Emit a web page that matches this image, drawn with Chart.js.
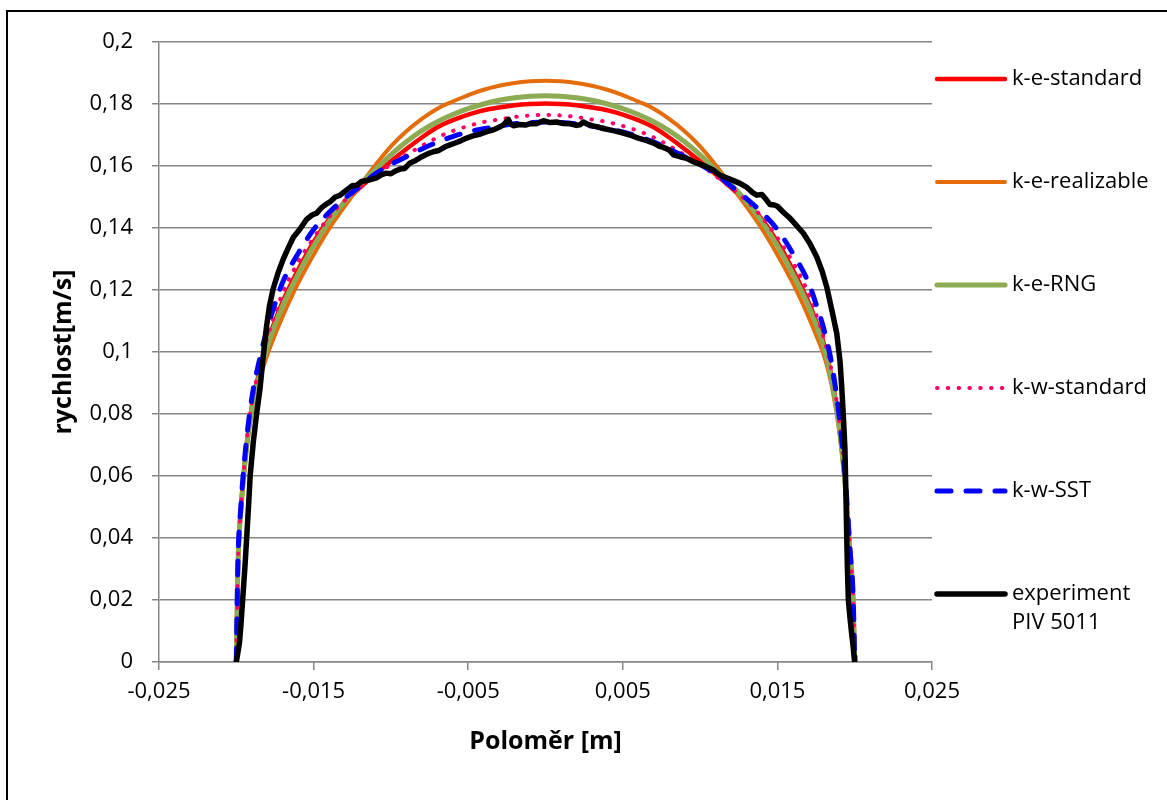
<!DOCTYPE html>
<html>
<head>
<meta charset="utf-8">
<title>Rychlostní profil</title>
<script src="https://cdn.jsdelivr.net/npm/chart.js@4.4.1/dist/chart.umd.min.js"></script>
<style>
  html, body { margin: 0; padding: 0; background: #ffffff; }
  #wrap { width: 1167px; height: 800px; position: relative; }
</style>
</head>
<body>
<div id="wrap"><canvas id="c" width="1167" height="800"></canvas></div>
<script>
// Radius grid shared by the CFD models [m]
const MODEL_X = [
  -0.02, -0.0199, -0.0197, -0.0194, -0.019, -0.0185, -0.018, -0.0175, -0.017, -0.016,
  -0.015, -0.014, -0.013, -0.012, -0.011, -0.010, -0.009, -0.008, -0.007, -0.006,
  -0.005, -0.004, -0.003, -0.002, -0.001, 0,
  0.001, 0.002, 0.003, 0.004, 0.005, 0.006, 0.007, 0.008, 0.009, 0.010,
  0.011, 0.012, 0.013, 0.014, 0.015, 0.016, 0.017, 0.0175, 0.018, 0.0185,
  0.019, 0.0194, 0.0197, 0.0199, 0.02
];

// Velocity [m/s] per turbulence model
const K_E_STANDARD = [
  0, 0.030, 0.0494, 0.0668, 0.0822, 0.0937, 0.1028, 0.1100, 0.1162, 0.1265,
  0.1355, 0.1428, 0.1482, 0.1530, 0.1573, 0.1615, 0.1655, 0.1692, 0.1725, 0.1748,
  0.1766, 0.1780, 0.1789, 0.1796, 0.1800, 0.1802,
  0.1800, 0.1796, 0.1789, 0.1780, 0.1766, 0.1748, 0.1725, 0.1692, 0.1655, 0.1615,
  0.1573, 0.1530, 0.1482, 0.1428, 0.1355, 0.1265, 0.1162, 0.1100, 0.1028, 0.0922,
  0.0764, 0.0567, 0.0352, 0.020, 0
];
const K_E_REALIZABLE = [
  0, 0.030, 0.0485, 0.0655, 0.0805, 0.0910, 0.0990, 0.1055, 0.1115, 0.1222,
  0.1314, 0.1397, 0.1469, 0.1537, 0.1603, 0.1663, 0.1712, 0.1752, 0.1785, 0.1808,
  0.1829, 0.1846, 0.1859, 0.1868, 0.1873, 0.1875,
  0.1873, 0.1868, 0.1859, 0.1846, 0.1829, 0.1808, 0.1785, 0.1752, 0.1712, 0.1663,
  0.1603, 0.1537, 0.1469, 0.1397, 0.1314, 0.1222, 0.1115, 0.1055, 0.0990, 0.0895,
  0.0745, 0.0555, 0.0345, 0.0195, 0
];
const K_E_RNG = [
  0, 0.030, 0.0490, 0.0663, 0.0815, 0.0925, 0.1015, 0.1088, 0.1150, 0.1252,
  0.1343, 0.1420, 0.1485, 0.1540, 0.1588, 0.1636, 0.1678, 0.1714, 0.1743, 0.1766,
  0.1785, 0.1800, 0.1812, 0.1820, 0.1825, 0.1827,
  0.1825, 0.1820, 0.1812, 0.1800, 0.1785, 0.1766, 0.1743, 0.1714, 0.1678, 0.1636,
  0.1588, 0.1540, 0.1485, 0.1420, 0.1343, 0.1252, 0.1150, 0.1088, 0.1015, 0.0912,
  0.0757, 0.0563, 0.0350, 0.020, 0
];
const K_W_STANDARD = [
  0, 0.031, 0.050, 0.0678, 0.0835, 0.0952, 0.1045, 0.1122, 0.1190, 0.1290,
  0.1368, 0.1435, 0.1488, 0.1530, 0.1568, 0.1605, 0.1636, 0.1665, 0.1692, 0.1713,
  0.1729, 0.1742, 0.1750, 0.1758, 0.1763, 0.1765,
  0.1763, 0.1758, 0.1750, 0.1742, 0.1729, 0.1713, 0.1692, 0.1665, 0.1636, 0.1605,
  0.1568, 0.1530, 0.1488, 0.1435, 0.1368, 0.1290, 0.1190, 0.1122, 0.1045, 0.0940,
  0.0777, 0.0576, 0.0358, 0.0205, 0
];
const K_W_SST = [
  0, 0.031, 0.0505, 0.0688, 0.0850, 0.0975, 0.1075, 0.1155, 0.1225, 0.1318,
  0.1395, 0.1450, 0.1495, 0.1535, 0.1575, 0.1605, 0.1630, 0.1655, 0.1677, 0.1695,
  0.1710, 0.1720, 0.1729, 0.1736, 0.1740, 0.1742,
  0.1740, 0.1736, 0.1729, 0.1720, 0.1710, 0.1695, 0.1677, 0.1655, 0.1630, 0.1605,
  0.1575, 0.1535, 0.1495, 0.1450, 0.1395, 0.1318, 0.1225, 0.1155, 0.1075, 0.0965,
  0.0792, 0.0586, 0.0362, 0.021, 0
];

// PIV measurement (PIV 5011)
const PIV_X = [
  -0.02000, -0.01990, -0.01980, -0.01970, -0.01959, -0.01945, -0.01933, -0.01920, -0.01910, -0.01890,
  -0.01868, -0.01847, -0.01825, -0.01805, -0.01785, -0.01761, -0.01730, -0.01696, -0.01660, -0.01631,
  -0.01590, -0.01545, -0.01510, -0.01480, -0.01450, -0.01415, -0.01394, -0.01360, -0.01330, -0.01308,
  -0.01286, -0.01250, -0.01220, -0.01190, -0.01157, -0.01120, -0.01092, -0.01060, -0.01030, -0.01000,
  -0.00970, -0.00941, -0.00910, -0.00876, -0.00840, -0.00800, -0.00760, -0.00726, -0.00690, -0.00650,
  -0.00618, -0.00580, -0.00545, -0.00510, -0.00470, -0.00420, -0.00380, -0.00340, -0.00300, -0.00273,
  -0.00250, -0.00240, -0.00225, -0.00208, -0.00170, -0.00130, -0.00100, -0.00060, -0.00014, 0.00030,
  0.00070, 0.00115, 0.00160, 0.00200, 0.00223, 0.00245, 0.00270, 0.00300, 0.00331, 0.00380,
  0.00439, 0.00490, 0.00547, 0.00600, 0.00655, 0.00700, 0.00740, 0.00762, 0.00800, 0.00827,
  0.00870, 0.00913, 0.00960, 0.00999, 0.01040, 0.01085, 0.01129, 0.01180, 0.01220, 0.01258,
  0.01300, 0.01340, 0.01366, 0.01400, 0.01430, 0.01452, 0.01480, 0.01500, 0.01540, 0.01581,
  0.01620, 0.01668, 0.01710, 0.01754, 0.01790, 0.01819, 0.01850, 0.01884, 0.01905, 0.01916,
  0.01928, 0.01937, 0.01943, 0.01948, 0.01953, 0.01959, 0.01970, 0.01980, 0.01990, 0.01996,
  0.02000
];
const PIV_V = [
  0.0000, 0.0030, 0.0060, 0.0120, 0.0200, 0.0300, 0.0400, 0.0510, 0.0603, 0.0710,
  0.0803, 0.0880, 0.0990, 0.1080, 0.1150, 0.1205, 0.1255, 0.1300, 0.1340, 0.1370,
  0.1395, 0.1428, 0.1442, 0.1448, 0.1465, 0.1478, 0.1484, 0.1500, 0.1505, 0.1514,
  0.1523, 0.1536, 0.1538, 0.1550, 0.1553, 0.1558, 0.1562, 0.1572, 0.1577, 0.1575,
  0.1584, 0.1590, 0.1592, 0.1610, 0.1618, 0.1630, 0.1640, 0.1646, 0.1650, 0.1662,
  0.1668, 0.1675, 0.1682, 0.1690, 0.1697, 0.1703, 0.1711, 0.1716, 0.1725, 0.1732,
  0.1745, 0.1750, 0.1735, 0.1730, 0.1734, 0.1732, 0.1737, 0.1736, 0.1746, 0.1740,
  0.1742, 0.1737, 0.1736, 0.1731, 0.1733, 0.1742, 0.1735, 0.1730, 0.1727, 0.1720,
  0.1714, 0.1708, 0.1700, 0.1690, 0.1682, 0.1674, 0.1663, 0.1660, 0.1652, 0.1636,
  0.1630, 0.1625, 0.1613, 0.1606, 0.1598, 0.1587, 0.1570, 0.1560, 0.1552, 0.1544,
  0.1532, 0.1514, 0.1506, 0.1508, 0.1490, 0.1476, 0.1474, 0.1470, 0.1450, 0.1432,
  0.1410, 0.1383, 0.1350, 0.1307, 0.1260, 0.1210, 0.1140, 0.1060, 0.0970, 0.0888,
  0.0780, 0.0684, 0.0550, 0.0415, 0.0300, 0.0200, 0.0140, 0.0093, 0.0050, 0.0017,
  0.0000
];

// Axis ticks
const X_TICKS = [-0.025, -0.015, -0.005, 0.005, 0.015, 0.025];
const Y_TICKS = [0, 0.02, 0.04, 0.06, 0.08, 0.1, 0.12, 0.14, 0.16, 0.18, 0.2];

const SERIES_NAMES = ['k-e-standard', 'k-e-realizable', 'k-e-RNG', 'k-w-standard', 'k-w-SST', 'experiment\nPIV 5011'];

const FONT = "'Open Sans', 'DejaVu Sans', sans-serif";
const toPts = (xs, ys) => xs.map((x, i) => ({ x: x, y: ys[i] }));
const comma = v => String(v).replace('.', ',');

const datasets = [
  { label: SERIES_NAMES[0], data: toPts(MODEL_X, K_E_STANDARD), borderColor: '#ff0000', borderWidth: 4.5, order: 6,
    cubicInterpolationMode: 'monotone', borderCapStyle: 'round', borderJoinStyle: 'round' },
  { label: SERIES_NAMES[1], data: toPts(MODEL_X, K_E_REALIZABLE), borderColor: '#e46c0a', borderWidth: 4, order: 5,
    cubicInterpolationMode: 'monotone', borderCapStyle: 'round', borderJoinStyle: 'round' },
  { label: SERIES_NAMES[2], data: toPts(MODEL_X, K_E_RNG), borderColor: '#8cab52', borderWidth: 5, order: 4,
    cubicInterpolationMode: 'monotone', borderCapStyle: 'round', borderJoinStyle: 'round' },
  { label: SERIES_NAMES[3], data: toPts(MODEL_X, K_W_STANDARD), borderColor: '#ff0066', borderWidth: 4, order: 3,
    cubicInterpolationMode: 'monotone', borderCapStyle: 'round', borderJoinStyle: 'round', borderDash: [0.5, 10.3] },
  { label: SERIES_NAMES[4], data: toPts(MODEL_X, K_W_SST), borderColor: '#0000ff', borderWidth: 5, order: 2,
    cubicInterpolationMode: 'monotone', borderCapStyle: 'round', borderJoinStyle: 'round', borderDash: [14, 15] },
  { label: SERIES_NAMES[5], data: toPts(PIV_X, PIV_V), borderColor: '#000000', borderWidth: 5.5, order: 1,
    tension: 0, borderCapStyle: 'round', borderJoinStyle: 'round' }
];
datasets.forEach(d => { d.pointRadius = 0; d.pointHoverRadius = 0; d.fill = false; });

// Page frame and the series key at the right
const frameAndKey = {
  id: 'frameAndKey',
  beforeDraw(chart) {
    const ctx = chart.ctx;
    ctx.save();
    ctx.fillStyle = '#ffffff';
    ctx.fillRect(0, 0, chart.width, chart.height);
    ctx.strokeStyle = '#000000';
    ctx.lineWidth = 2;
    ctx.beginPath();
    ctx.moveTo(7, chart.height);
    ctx.lineTo(7, 11);
    ctx.lineTo(chart.width, 11);
    ctx.stroke();
    ctx.restore();
  },
  afterDraw(chart) {
    const ctx = chart.ctx;
    const rowTop = 79, rowStep = 103;
    chart.data.datasets.forEach((ds, i) => {
      const y = rowTop + i * rowStep;
      ctx.save();
      ctx.strokeStyle = ds.borderColor;
      ctx.lineWidth = ds.borderWidth;
      ctx.lineCap = 'round';
      ctx.setLineDash(ds.borderDash || []);
      ctx.beginPath();
      ctx.moveTo(937, y);
      ctx.lineTo(1005, y);
      ctx.stroke();
      ctx.setLineDash([]);
      ctx.fillStyle = '#000000';
      ctx.font = '22px ' + FONT;
      ctx.textBaseline = 'middle';
      ctx.textAlign = 'left';
      ds.label.split('\n').forEach((t, j) => ctx.fillText(t, 1012, y + j * 29));
      ctx.restore();
    });
  }
};

new Chart(document.getElementById('c'), {
  type: 'line',
  data: { datasets: datasets },
  plugins: [frameAndKey],
  options: {
    responsive: false,
    animation: false,
    devicePixelRatio: 1,
    layout: { padding: { left: 0, top: 42, right: 235, bottom: 0 } },
    plugins: { legend: { display: false }, tooltip: { enabled: false } },
    scales: {
      x: {
        type: 'linear',
        min: -0.025,
        max: 0.025,
        afterBuildTicks: s => { s.ticks = X_TICKS.map(v => ({ value: v })); },
        afterFit: s => { s.height = 138; },
        grid: { drawOnChartArea: false, drawTicks: true, tickLength: 8, color: '#868686', lineWidth: 1.5 },
        border: { display: true, color: '#868686', width: 1.5 },
        ticks: { callback: v => comma(v), color: '#000000', padding: 9, maxRotation: 0,
                 font: { family: FONT, size: 22 } },
        title: { display: true, text: 'Poloměr [m]', color: '#000000',
                 font: { family: FONT, size: 25, weight: 'bold' }, padding: { top: 0, bottom: 43 } }
      },
      y: {
        type: 'linear',
        min: 0,
        max: 0.2,
        afterBuildTicks: s => { s.ticks = Y_TICKS.map(v => ({ value: v })); },
        afterFit: s => { s.width = 159; },
        grid: { drawOnChartArea: true, drawTicks: true, tickLength: 7, color: '#868686', lineWidth: 1.5 },
        border: { display: true, color: '#868686', width: 1.5 },
        ticks: { callback: v => comma(v), color: '#000000', padding: 19,
                 font: { family: FONT, size: 22 } },
        title: { display: true, text: 'rychlost[m/s]', color: '#000000',
                 font: { family: FONT, size: 25, weight: 'bold' }, padding: { top: 49, bottom: 0 } }
      }
    }
  }
});
</script>
</body>
</html>
